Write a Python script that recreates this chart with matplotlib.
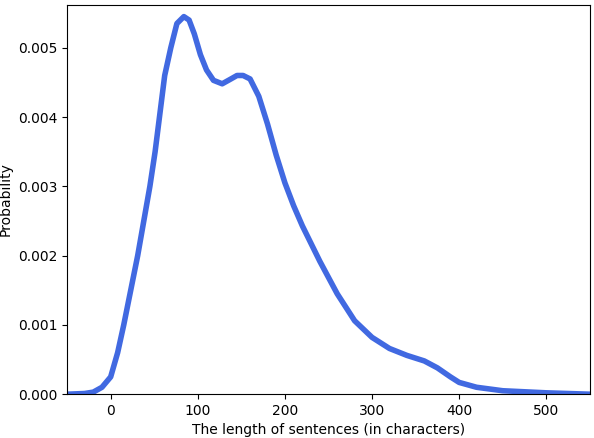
import matplotlib.pyplot as plt

# points
length = [-50, -30, -20, -10, 0, 8, 15, 23, 31, 38, 45, 51, 56, 62, 69, 76, 84, 90, 96,
          103, 110, 118, 128, 138, 145, 152, 160, 170, 180, 190, 200, 210, 220, 240,
          260, 280, 300, 320, 340, 360, 375, 390, 400, 420, 450, 500, 550]
prob = [0.0, 0.00001, 0.00003, 0.0001, 0.00025, 0.0006, 0.001, 0.0015, 0.002, 0.0025,
        0.003, 0.0035, 0.004, 0.0046, 0.005, 0.00535, 0.00545, 0.0054, 0.0052,
        0.0049, 0.00468, 0.00453, 0.00448, 0.00455, 0.0046, 0.0046, 0.00455, 0.0043,
        0.0039, 0.00345, 0.00305, 0.00272, 0.00243, 0.00192, 0.00145, 0.00106,
        0.00082, 0.00066, 0.00056, 0.00048, 0.00038, 0.00025, 0.00017, 0.0001,
        0.00005, 0.00002, 0.0]

fig, ax = plt.subplots(figsize=(5.94, 4.38), dpi=100)
ax.plot(length, prob, color='royalblue', linewidth=4)
ax.set_xlim(-50, 550)
ax.set_ylim(0, 0.00562)
ax.set_xlabel('The length of sentences (in characters)')
ax.set_ylabel('Probability')
fig.subplots_adjust(left=0.113, right=0.993, top=0.989, bottom=0.1)
fig.savefig('out.png')
